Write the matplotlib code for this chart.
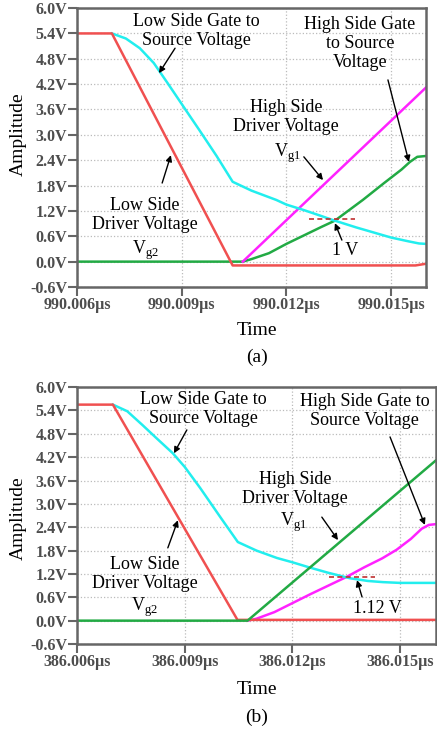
import numpy as np
import matplotlib
matplotlib.use('Agg')
import matplotlib.pyplot as plt

plt.rcParams['font.family'] = ['Liberation Serif', 'DejaVu Serif']
plt.rcParams['mathtext.fontset'] = 'custom'
plt.rcParams['mathtext.rm'] = 'Liberation Serif'

# time axis in ns after the first tick
x_ticks = [0, 3, 6, 9]
y_ticks = [-0.6, 0.0, 0.6, 1.2, 1.8, 2.4, 3.0, 3.6, 4.2, 4.8, 5.4, 6.0]
y_ticklabels = ['%.1fV' % v for v in y_ticks]
a_xticklabels = ['990.006\u00b5s', '990.009\u00b5s', '990.012\u00b5s', '990.015\u00b5s']
b_xticklabels = ['386.006\u00b5s', '386.009\u00b5s', '386.012\u00b5s', '386.015\u00b5s']

# panel (a)
a_red_t = [0, 1.0, 4.46, 9.7, 10.0]
a_red_v = [5.4, 5.4, -0.09, -0.09, -0.05]
a_cyan_t = [1.0, 1.4, 1.8, 2.2, 2.6, 3.0, 3.5, 4.0, 4.46, 5.0, 5.71, 6.0, 6.5, 7.0, 7.31, 8.0, 8.5, 9.0, 9.5, 9.8, 10.0]
a_cyan_v = [5.4, 5.28, 5.05, 4.70, 4.22, 3.73, 3.12, 2.50, 1.89, 1.68, 1.46, 1.35, 1.22, 1.08, 0.99, 0.81, 0.69, 0.57, 0.48, 0.43, 0.42]
a_mag_t = [4.75, 10.0]
a_mag_v = [0.0, 4.12]
a_green_t = [0, 4.75, 5.0, 5.5, 6.0, 6.5, 7.0, 7.39, 8.19, 8.8, 9.3, 9.54, 9.75, 10.0]
a_green_v = [0, 0, 0.06, 0.2, 0.42, 0.62, 0.82, 0.97, 1.46, 1.86, 2.18, 2.36, 2.48, 2.50]
a_mark_v = 1.0
a_mark_t = [6.66, 7.97]

# panel (b)
b_red_t = [0, 1.0, 4.47, 10.0]
b_red_v = [5.55, 5.55, 0.02, 0.02]
b_cyan_t = [1.0, 1.4, 1.83, 2.2, 2.67, 3.0, 3.43, 4.0, 4.48, 5.0, 5.57, 6.0, 6.5, 7.0, 7.6, 8.1, 8.52, 9.0, 10.0]
b_cyan_v = [5.55, 5.38, 5.02, 4.70, 4.30, 3.95, 3.41, 2.65, 2.02, 1.80, 1.61, 1.50, 1.36, 1.23, 1.09, 1.02, 0.99, 0.97, 0.97]
b_green_t = [0, 4.75, 10.0]
b_green_v = [0, 0, 4.12]
b_mag_t = [4.75, 5.0, 5.5, 6.0, 6.5, 7.0, 7.5, 8.0, 8.5, 8.9, 9.3, 9.6, 9.8, 10.0]
b_mag_v = [0, 0.05, 0.22, 0.45, 0.68, 0.9, 1.12, 1.37, 1.6, 1.82, 2.1, 2.36, 2.46, 2.48]
b_mark_v = 1.13
b_mark_t = [7.03, 8.31]

RED = '#f05050'
CYAN = '#22eeee'
MAG = '#ff22ff'
GREEN = '#22aa44'
GRAY = '#666666'
FS = 13
LW = 1.8


def setup(ax, xlabels):
    ax.set_xlim(0, 10)
    ax.set_ylim(-0.6, 6.0)
    ax.set_xticks(x_ticks)
    ax.set_xticklabels(xlabels)
    ax.set_yticks(y_ticks)
    ax.set_yticklabels(y_ticklabels)
    for lab in ax.get_xticklabels() + ax.get_yticklabels():
        lab.set_fontweight('bold')
        lab.set_color('#4d4d4d')
        lab.set_fontsize(11.5)
    ax.tick_params(direction='out', length=6.5, width=1.5, color=GRAY, pad=0.5)
    for s in ax.spines.values():
        s.set_color(GRAY)
        s.set_linewidth(1.8)
    ax.grid(True, ls=':', color='#bbbbbb', lw=0.9)
    ax.set_axisbelow(True)


def note(ax, xy, xytext):
    ax.annotate('', xy=xy, xytext=xytext,
                arrowprops=dict(arrowstyle='-|>', color='black', lw=1.0,
                                mutation_scale=9, shrinkA=0, shrinkB=0))


fig = plt.figure(figsize=(4.37, 7.34), dpi=100)

# ---- (a)
ax = fig.add_axes([0.1762, 0.609, 0.7986, 0.380])
setup(ax, a_xticklabels)
ax.plot(a_green_t, a_green_v, color=GREEN, lw=LW)
ax.plot(a_mag_t, a_mag_v, color=MAG, lw=LW)
ax.plot(a_cyan_t, a_cyan_v, color=CYAN, lw=LW)
ax.plot(a_red_t, a_red_v, color=RED, lw=LW)
ax.plot(a_mark_t, [a_mark_v, a_mark_v], color='#c03030', lw=1.2, ls=(0, (3, 2)))
ax.text(3.41, 5.46, 'Low Side Gate to\nSource Voltage', ha='center', va='center', fontsize=FS, linespacing=1.15)
note(ax, (2.35, 4.46), (2.81, 5.05))
ax.text(8.11, 5.17, 'High Side Gate\nto Source\nVoltage', ha='center', va='center', fontsize=FS, linespacing=1.15)
note(ax, (9.51, 2.36), (8.91, 4.30))
ax.text(5.99, 3.43, 'High Side\nDriver Voltage', ha='center', va='center', fontsize=FS, linespacing=1.15)
ax.text(6.02, 2.57, r'V$_{\mathrm{g1}}$', ha='center', va='center', fontsize=FS)
note(ax, (7.05, 1.93), (6.50, 2.48))
ax.text(1.95, 1.10, 'Low Side\nDriver Voltage', ha='center', va='center', fontsize=FS, linespacing=1.15)
ax.text(1.95, 0.27, r'V$_{\mathrm{g2}}$', ha='center', va='center', fontsize=FS)
note(ax, (2.69, 2.52), (2.44, 1.86))
ax.text(7.68, 0.27, '1 V', ha='center', va='center', fontsize=FS)
note(ax, (7.39, 0.91), (7.59, 0.51))
fig.text(18 / 437, 1 - 134 / 734, 'Amplitude', rotation=90, ha='center', va='center', fontsize=14)
fig.text(257 / 437, 1 - 331 / 734, 'Time', ha='center', va='center', fontsize=14)
fig.text(257 / 437, 1 - 357 / 734, '(a)', ha='center', va='center', fontsize=14)

# ---- (b)
ax = fig.add_axes([0.1762, 0.1226, 0.8215, 0.350])
setup(ax, b_xticklabels)
ax.plot(b_mag_t, b_mag_v, color=MAG, lw=LW)
ax.plot(b_cyan_t, b_cyan_v, color=CYAN, lw=LW)
ax.plot(b_red_t, b_red_v, color=RED, lw=LW)
ax.plot(b_green_t, b_green_v, color=GREEN, lw=LW)
ax.plot(b_mark_t, [b_mark_v, b_mark_v], color='#c03030', lw=1.2, ls=(0, (3, 2)))
ax.text(3.51, 5.43, 'Low Side Gate to\nSource Voltage', ha='center', va='center', fontsize=FS, linespacing=1.15)
note(ax, (2.70, 4.30), (3.06, 4.90))
ax.text(8.02, 5.38, 'High Side Gate to\nSource Voltage', ha='center', va='center', fontsize=FS, linespacing=1.15)
note(ax, (9.69, 2.46), (8.72, 4.72))
ax.text(6.07, 3.39, 'High Side\nDriver Voltage', ha='center', va='center', fontsize=FS, linespacing=1.15)
ax.text(6.02, 2.53, r'V$_{\mathrm{g1}}$', ha='center', va='center', fontsize=FS)
note(ax, (7.27, 2.07), (6.82, 2.66))
ax.text(1.89, 1.20, 'Low Side\nDriver Voltage', ha='center', va='center', fontsize=FS, linespacing=1.15)
ax.text(1.89, 0.35, r'V$_{\mathrm{g2}}$', ha='center', va='center', fontsize=FS)
note(ax, (2.81, 2.58), (2.53, 1.87))
ax.text(8.38, 0.30, '1.12 V', ha='center', va='center', fontsize=FS)
note(ax, (7.80, 1.04), (7.94, 0.61))
fig.text(18 / 437, 1 - 518 / 734, 'Amplitude', rotation=90, ha='center', va='center', fontsize=14)
fig.text(257 / 437, 1 - 689 / 734, 'Time', ha='center', va='center', fontsize=14)
fig.text(257 / 437, 1 - 717 / 734, '(b)', ha='center', va='center', fontsize=14)

fig.savefig('out.png', dpi=100)
